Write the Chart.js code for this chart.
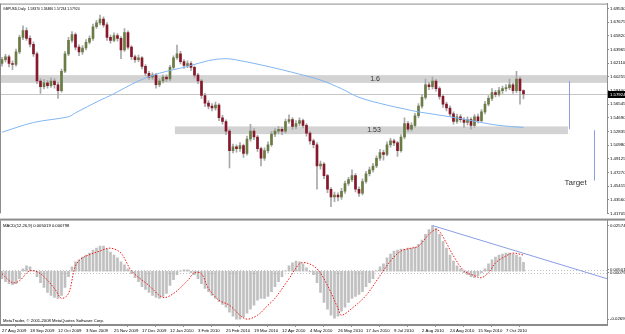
<!DOCTYPE html>
<html>
<head>
<meta charset="utf-8">
<script src="https://cdn.jsdelivr.net/npm/chart.js@4.4.0/dist/chart.umd.min.js"></script>
<style>
  html, body { margin: 0; padding: 0; background: #fff; }
  #wrap { position: relative; width: 625px; height: 334px; overflow: hidden; }
  canvas { position: absolute; left: 0; }
  #price { top: 0; }
  #macd { top: 217px; }
</style>
</head>
<body>
<div id="wrap">
  <canvas id="price" width="625" height="217"></canvas>
  <canvas id="macd" width="625" height="117"></canvas>
</div>
<script>
// GBPUSD daily, one candle per two sessions
const opens = [1.6205,1.6257,1.6297,1.6205,1.6191,1.6362,1.6559,1.6651,1.6546,1.6467,
  1.6336,1.5968,1.5889,1.5942,1.5903,1.5968,1.5916,1.5837,1.6100,1.6336,
  1.6520,1.6599,1.6428,1.6362,1.6415,1.6494,1.6546,1.6704,1.6756,1.6809,
  1.6730,1.6559,1.6520,1.6585,1.6546,1.6388,1.6625,1.6428,1.6297,1.6257,
  1.6283,1.6165,1.6073,1.6021,1.6047,1.5916,1.5968,1.6021,1.5995,1.6152,
  1.6283,1.6336,1.6231,1.6178,1.6205,1.6152,1.6047,1.5968,1.5771,1.5666,
  1.5627,1.5601,1.5640,1.5469,1.5417,1.5286,1.5023,1.5075,1.5049,1.5089,
  1.4984,1.5180,1.5286,1.5207,1.5049,1.4918,1.5023,1.5102,1.5246,1.5286,
  1.5312,1.5286,1.5417,1.5443,1.5351,1.5391,1.5430,1.5364,1.5259,1.5154,
  1.5102,1.4813,1.4839,1.4682,1.4498,1.4393,1.4419,1.4393,1.4471,1.4576,
  1.4629,1.4682,1.4498,1.4445,1.4603,1.4708,1.4760,1.4813,1.4918,1.4997,
  1.4970,1.5102,1.5154,1.5128,1.5023,1.5207,1.5391,1.5312,1.5364,1.5496,
  1.5627,1.5745,1.5916,1.5889,1.5968,1.5863,1.5758,1.5653,1.5601,1.5522,
  1.5417,1.5482,1.5443,1.5404,1.5443,1.5364,1.5482,1.5430,1.5548,1.5653,
  1.5732,1.5811,1.5785,1.5837,1.5863,1.5876,1.5916,1.5837,1.5995,1.5837];
const highs = [1.6290,1.6330,1.6320,1.6240,1.6400,1.6590,1.6717,1.6690,1.6580,1.6500,
  1.6360,1.6000,1.5990,1.5975,1.6010,1.6000,1.5950,1.6130,1.6370,1.6560,
  1.6640,1.6620,1.6460,1.6450,1.6530,1.6580,1.6740,1.6790,1.6861,1.6840,
  1.6760,1.6590,1.6620,1.6610,1.6570,1.6678,1.6650,1.6450,1.6320,1.6320,
  1.6300,1.6190,1.6100,1.6080,1.6070,1.6000,1.6050,1.6050,1.6180,1.6310,
  1.6454,1.6370,1.6260,1.6240,1.6230,1.6170,1.6070,1.5990,1.5800,1.5700,
  1.5660,1.5680,1.5660,1.5500,1.5440,1.5310,1.5110,1.5100,1.5130,1.5110,
  1.5220,1.5378,1.5320,1.5230,1.5070,1.5060,1.5140,1.5280,1.5320,1.5350,
  1.5340,1.5450,1.5509,1.5470,1.5430,1.5469,1.5450,1.5390,1.5280,1.5180,
  1.5130,1.4880,1.4860,1.4700,1.4520,1.4460,1.4450,1.4510,1.4610,1.4660,
  1.4760,1.4710,1.4530,1.4640,1.4740,1.4800,1.4850,1.4950,1.5040,1.5030,
  1.5140,1.5190,1.5180,1.5150,1.5240,1.5469,1.5420,1.5400,1.5530,1.5660,
  1.5780,1.5995,1.5950,1.6021,1.5990,1.5890,1.5780,1.5680,1.5630,1.5550,
  1.5520,1.5510,1.5470,1.5480,1.5470,1.5510,1.5520,1.5580,1.5690,1.5770,
  1.5863,1.5840,1.5880,1.5900,1.5920,1.5995,1.5940,1.6100,1.6020,1.58486];
const lows = [1.6170,1.6225,1.6160,1.6120,1.6170,1.6340,1.6530,1.6520,1.6430,1.6300,
  1.5930,1.5800,1.5860,1.5870,1.5880,1.5870,1.5732,1.5815,1.6080,1.6310,
  1.6490,1.6390,1.6310,1.6330,1.6390,1.6470,1.6520,1.6680,1.6730,1.6700,
  1.6520,1.6480,1.6500,1.6510,1.6270,1.6370,1.6400,1.6260,1.6220,1.6230,
  1.6130,1.6040,1.5990,1.5990,1.5870,1.5890,1.5940,1.5960,1.5970,1.6130,
  1.6260,1.6200,1.6140,1.6150,1.6110,1.6010,1.5930,1.5730,1.5620,1.5590,
  1.5560,1.5570,1.5430,1.5380,1.5240,1.4787,1.4990,1.5000,1.5010,1.4930,
  1.4960,1.5150,1.5170,1.5010,1.4813,1.4890,1.4990,1.5080,1.5210,1.5250,
  1.5240,1.5260,1.5390,1.5310,1.5320,1.5360,1.5330,1.5220,1.5110,1.5060,
  1.4498,1.4770,1.4640,1.4450,1.4262,1.4330,1.4340,1.4360,1.4440,1.4550,
  1.4600,1.4460,1.4400,1.4420,1.4580,1.4680,1.4730,1.4790,1.4890,1.4892,
  1.4950,1.5070,1.5090,1.4944,1.5000,1.5180,1.5280,1.5290,1.5340,1.5470,
  1.5600,1.5720,1.5850,1.5860,1.5830,1.5720,1.5610,1.5560,1.5490,1.5380,
  1.5390,1.5410,1.5338,1.5370,1.5312,1.5340,1.5400,1.5410,1.5520,1.5630,
  1.5700,1.5750,1.5760,1.5800,1.5830,1.5850,1.5800,1.5810,1.5653,1.57234];
const closes = [1.6257,1.6297,1.6205,1.6191,1.6362,1.6559,1.6651,1.6546,1.6467,1.6336,
  1.5968,1.5889,1.5942,1.5903,1.5968,1.5916,1.5837,1.6100,1.6336,1.6520,
  1.6599,1.6428,1.6362,1.6415,1.6494,1.6546,1.6704,1.6756,1.6809,1.6730,
  1.6559,1.6520,1.6585,1.6546,1.6388,1.6625,1.6428,1.6297,1.6257,1.6283,
  1.6165,1.6073,1.6021,1.6047,1.5916,1.5968,1.6021,1.5995,1.6152,1.6283,
  1.6336,1.6231,1.6178,1.6205,1.6152,1.6047,1.5968,1.5771,1.5666,1.5627,
  1.5601,1.5640,1.5469,1.5417,1.5286,1.5023,1.5075,1.5049,1.5089,1.4984,
  1.5180,1.5286,1.5207,1.5049,1.4918,1.5023,1.5102,1.5246,1.5286,1.5312,
  1.5286,1.5417,1.5443,1.5351,1.5391,1.5430,1.5364,1.5259,1.5154,1.5102,
  1.4813,1.4839,1.4682,1.4498,1.4393,1.4419,1.4393,1.4471,1.4576,1.4629,
  1.4682,1.4498,1.4445,1.4603,1.4708,1.4760,1.4813,1.4918,1.4997,1.4970,
  1.5102,1.5154,1.5128,1.5023,1.5207,1.5391,1.5312,1.5364,1.5496,1.5627,
  1.5745,1.5916,1.5889,1.5968,1.5863,1.5758,1.5653,1.5601,1.5522,1.5417,
  1.5482,1.5443,1.5404,1.5443,1.5364,1.5482,1.5430,1.5548,1.5653,1.5732,
  1.5811,1.5785,1.5837,1.5863,1.5876,1.5916,1.5837,1.5995,1.5837,1.57924];

// moving average (blue), sampled where it could be read
const maIdx = [0,9,19,21,28,31,39,45,53,59,64,68,76,85,91,97,102,110,115,119,128,137,142,149];
const maVal = [1.5272,1.5404,1.5482,1.5535,1.5706,1.5771,1.5968,1.6073,1.6165,1.6244,1.6270,1.6244,
  1.6165,1.6060,1.5981,1.5863,1.5745,1.5640,1.5588,1.5548,1.5482,1.5404,1.5364,1.5338];

// MACD(12,26,9) histogram and signal
const macdHist = [-0.0042,-0.0058,-0.0069,-0.0075,-0.0069,-0.0042,0.0014,0.0030,0.0025,0.0003,
  -0.0030,-0.0064,-0.0091,-0.0119,-0.0136,-0.0147,-0.0152,-0.0136,-0.0091,-0.0030,
  0.0025,0.0053,0.0064,0.0080,0.0091,0.0102,0.0119,0.0130,0.0141,0.0141,
  0.0125,0.0108,0.0091,0.0075,0.0053,0.0036,0.0014,-0.0014,-0.0036,-0.0058,
  -0.0086,-0.0102,-0.0119,-0.0136,-0.0147,-0.0152,-0.0141,-0.0125,-0.0080,-0.0047,
  -0.0019,0.0003,0.0008,0.0008,-0.0008,-0.0019,-0.0042,-0.0069,-0.0097,-0.0114,
  -0.0136,-0.0152,-0.0169,-0.0186,-0.0202,-0.0230,-0.0252,-0.0269,-0.0269,-0.0258,
  -0.0235,-0.0213,-0.0191,-0.0163,-0.0152,-0.0152,-0.0141,-0.0114,-0.0086,-0.0058,
  -0.0030,0.0003,0.0030,0.0047,0.0058,0.0053,0.0042,0.0019,-0.0003,-0.0019,
  -0.0064,-0.0119,-0.0175,-0.0213,-0.0247,-0.0263,-0.0252,-0.0224,-0.0202,-0.0175,
  -0.0152,-0.0141,-0.0130,-0.0114,-0.0086,-0.0064,-0.0042,0.0003,0.0025,0.0042,
  0.0075,0.0097,0.0114,0.0119,0.0125,0.0125,0.0130,0.0130,0.0136,0.0152,
  0.0175,0.0208,0.0235,0.0257,0.0241,0.0208,0.0169,0.0130,0.0091,0.0058,
  0.0030,0.0014,-0.0008,-0.0019,-0.0030,-0.0036,-0.0025,-0.0008,0.0014,0.0042,
  0.0064,0.0080,0.0091,0.0097,0.0102,0.0102,0.0097,0.0091,0.0080,0.0050];
const signalIdx = [0,3,5,8,11,15,17,19,21,23,28,31,34,37,42,46,49,53,55,57,59,62,65,68,70,73,76,78,
  82,85,87,90,93,96,97,100,104,108,111,114,117,119,122,124,125,127,129,132,135,137,139,141,144,146,149];
const signalVal = [-0.0014,-0.0064,-0.0053,0.0003,-0.0014,-0.0097,-0.0152,-0.0125,0.0030,0.0075,
  0.0114,0.0130,0.0102,0.0003,-0.0080,-0.0147,-0.0125,-0.0053,-0.0008,-0.0014,
  -0.0097,-0.0163,-0.0191,-0.0247,-0.0269,-0.0247,-0.0191,-0.0152,-0.0042,0.0042,
  0.0047,0.0014,-0.0080,-0.0208,-0.0247,-0.0208,-0.0136,-0.0025,0.0058,0.0114,
  0.0130,0.0141,0.0208,0.0235,0.0224,0.0158,0.0086,0.0003,-0.0025,-0.0036,
  -0.0008,0.0047,0.0086,0.0102,0.0091];
const macdLevels = [0.0008, -0.0008];
const macdTrend = [[123, 0.0257], [172.9, -0.0042]];

// drawn zones and marks
const zone16 = [1.5942, 1.6047];
const zone153 = [1.5246, 1.5351];
const zone153From = 49.4, zone153To = 161.7;
const bidPrice = 1.57924;
const moveLine = [162, 1.5968, 1.5312];
const targetLine = [169.1, 1.5299, 1.4616];

// axis labels
const priceTicks = [1.69530,1.67675,1.65820,1.63965,1.62110,1.60255,1.58400,1.56545,
  1.54690,1.52835,1.50980,1.49125,1.47270,1.45415,1.43560,1.41705];
const priceTickLabels = priceTicks.map(v => v.toFixed(5));
const macdTicks = [-0.02691, -0.0008, 0.0008, 0.02574];
const macdTickLabels = ["-0.026910", "0.000798", "0.005019", "0.025740"];
const dateIdx = [0,8,16,24,32,40,48,56,64,72,80,88,96,104,112,120,128,136,144];
const dateLabels = ["27 Aug 2009","18 Sep 2009","12 Oct 2009","3 Nov 2009","25 Nov 2009","17 Dec 2009",
  "12 Jan 2010","3 Feb 2010","25 Feb 2010","19 Mar 2010","12 Apr 2010","4 May 2010","26 May 2010",
  "17 Jun 2010","9 Jul 2010","2 Aug 2010","24 Aug 2010","15 Sep 2010","7 Oct 2010"];

const FONT = '"Liberation Sans", Arial, sans-serif';
const bull = '#6a7c44';
const bear = '#86182b';
const xMin = -0.57, xMax = 172.86;
const idx = closes.map((c, i) => i);

Chart.defaults.font.family = FONT;

const annot = {
  id: 'annot',
  beforeDatasetsDraw(chart, args, o) {
    const { ctx, chartArea: a, scales: { x, y } } = chart;
    ctx.save();
    ctx.beginPath(); ctx.rect(a.left, a.top, a.width, a.height); ctx.clip();
    (o.bands || []).forEach(b => {
      const x0 = x.getPixelForValue(b.from), x1 = x.getPixelForValue(b.to);
      const y0 = y.getPixelForValue(b.range[1]), y1 = y.getPixelForValue(b.range[0]);
      ctx.fillStyle = b.color;
      ctx.fillRect(x0, y0, x1 - x0, y1 - y0);
    });
    (o.hlines || []).forEach(h => {
      const py = Math.round(y.getPixelForValue(h.value)) + 0.5;
      ctx.strokeStyle = h.color; ctx.lineWidth = 1;
      ctx.setLineDash(h.dash || []);
      ctx.beginPath(); ctx.moveTo(a.left, py); ctx.lineTo(a.right, py); ctx.stroke();
    });
    ctx.restore();
  },
  afterDatasetsDraw(chart, args, o) {
    const { ctx, chartArea: a, scales: { x, y } } = chart;
    ctx.save();
    (o.vlines || []).forEach(v => {
      const px = Math.round(x.getPixelForValue(v.line[0])) + 0.5;
      ctx.strokeStyle = v.color; ctx.lineWidth = 1;
      ctx.beginPath(); ctx.moveTo(px, y.getPixelForValue(v.line[1])); ctx.lineTo(px, y.getPixelForValue(v.line[2])); ctx.stroke();
    });
    (o.texts || []).forEach(t => {
      ctx.font = t.font; ctx.fillStyle = t.color;
      ctx.textAlign = 'center'; ctx.textBaseline = 'middle';
      ctx.fillText(t.text, x.getPixelForValue(t.at[0]), y.getPixelForValue(t.at[1]));
    });
    ctx.restore();
  },
  afterDraw(chart, args, o) {
    const { ctx, chartArea: a, scales: { y } } = chart;
    ctx.save();
    ctx.fillStyle = '#8c8c8c';
    if (o.topBar) ctx.fillRect(a.left, a.top - 2, chart.width, 2);
    else ctx.fillRect(a.left, a.top, a.right - a.left, 1);
    ctx.fillRect(a.left, a.top, 1, a.bottom - a.top);
    if (o.bottomLine) ctx.fillRect(a.left, a.bottom - 1, a.right - a.left, 1);
    ctx.font = o.captionFont; ctx.fillStyle = '#000';
    ctx.textAlign = 'left'; ctx.textBaseline = 'middle';
    (o.captions || []).forEach(c => {
      ctx.fillText(c.text, a.left + 3, c.top ? a.top + c.off : a.bottom - c.off);
    });
    if (o.bid) {
      const py = Math.round(y.getPixelForValue(o.bid));
      ctx.fillStyle = '#000';
      ctx.fillRect(a.right + 1, py - 3, chart.width - a.right, 7);
      ctx.fillStyle = '#fff';
      ctx.font = '4.3px ' + FONT;
      ctx.fillText(o.bid.toFixed(5), a.right + 3, py + 0.5);
    }
    ctx.restore();
  }
};

const rightAxis = (min, max, ticks, labels) => ({
  position: 'right', min, max,
  afterFit: ax => { ax.width = 18; },
  afterBuildTicks: ax => { ax.ticks = ticks.map(v => ({ value: v })); },
  ticks: { callback: (v, i) => labels[i], font: { size: 4.3 }, color: '#000', padding: 1 },
  grid: { drawOnChartArea: false, tickLength: 2, color: '#8c8c8c' },
  border: { color: '#8c8c8c' }
});

new Chart(document.getElementById('price'), {
  type: 'bar',
  data: {
    datasets: [
      { type: 'line', data: maIdx.map((v, i) => ({ x: v, y: maVal[i] })), borderColor: '#80b6f2',
        borderWidth: 1, pointRadius: 0, tension: 0.35, order: 0 },
      { data: idx.map(i => ({ x: i, y: [opens[i], closes[i]] })), barThickness: 2, minBarLength: 1,
        backgroundColor: c => closes[c.dataIndex] >= opens[c.dataIndex] ? bull : bear,
        grouped: false, order: 1 },
      { data: idx.map(i => ({ x: i, y: [lows[i], highs[i]] })), barThickness: 1,
        backgroundColor: '#a8a8a8', grouped: false, order: 2 }
    ]
  },
  options: {
    responsive: false, animation: false, devicePixelRatio: 1,
    layout: { autoPadding: false, padding: 0 },
    plugins: {
      legend: { display: false }, tooltip: { enabled: false },
      annot: {
        bands: [
          { from: xMin - 1, to: xMax + 1, range: zone16, color: '#d3d3d3' },
          { from: zone153From, to: zone153To, range: zone153, color: '#d3d3d3' }
        ],
        hlines: [{ value: bidPrice, color: '#c6c6c6' }],
        vlines: [{ line: moveLine, color: '#8a9ee6' }, { line: targetLine, color: '#8a9ee6' }],
        texts: [
          { text: '1.6', at: [106.6, 1.5995], font: '7px ' + FONT, color: '#333' },
          { text: '1.53', at: [106.3, 1.5299], font: '7px ' + FONT, color: '#333' },
          { text: 'Target', at: [163.9, 1.4590], font: '8px ' + FONT, color: '#333' }
        ],
        captionFont: '3.4px ' + FONT,
        captions: [{ text: 'GBPUSD,Daily  1.58370 1.58486 1.57234 1.57924', top: true, off: 5 }],
        bid: bidPrice
      }
    },
    scales: {
      x: { type: 'linear', min: xMin, max: xMax, offset: false, display: false },
      y: rightAxis(1.41695, 1.70187, priceTicks, priceTickLabels)
    }
  },
  plugins: [annot]
});

new Chart(document.getElementById('macd'), {
  type: 'bar',
  data: {
    datasets: [
      { type: 'line', data: macdTrend.map(p => ({ x: p[0], y: p[1] })), borderColor: '#8a9ee6',
        borderWidth: 1, pointRadius: 0, order: 0 },
      { type: 'line', data: signalIdx.map((v, i) => ({ x: v, y: signalVal[i] })), borderColor: '#f01818',
        borderWidth: 1, borderDash: [1.5, 1.5], pointRadius: 0, tension: 0.35, order: 1 },
      { data: idx.map(i => ({ x: i, y: macdHist[i] })), barThickness: 2, backgroundColor: '#c0c0c0',
        grouped: false, order: 2 }
    ]
  },
  options: {
    responsive: false, animation: false, devicePixelRatio: 1,
    layout: { autoPadding: false, padding: { top: 2 } },
    plugins: {
      legend: { display: false }, tooltip: { enabled: false },
      annot: {
        hlines: macdLevels.map(v => ({ value: v, color: '#c4c4c4', dash: [1, 2] })),
        topBar: true, bottomLine: true,
        captionFont: '4.2px ' + FONT,
        captions: [
          { text: 'MACD(12,26,9) 0.005019 0.000798', top: true, off: 5 },
          { text: 'MetaTrader, \u00a9 2001-2008 MetaQuotes Software Corp.', top: false, off: 4 }
        ]
      }
    },
    scales: {
      x: {
        type: 'linear', min: xMin, max: xMax, offset: false,
        afterFit: ax => { ax.height = 9; },
        afterBuildTicks: ax => { ax.ticks = dateIdx.map(v => ({ value: v })); },
        ticks: { callback: (v, i) => dateLabels[i], align: 'start', autoSkip: false, maxRotation: 0,
          font: { size: 4.3 }, color: '#000', padding: 1 },
        grid: { drawOnChartArea: false, tickLength: 2, color: '#8c8c8c' },
        border: { color: '#8c8c8c' }
      },
      y: rightAxis(-0.0302, 0.0285, macdTicks, macdTickLabels)
    }
  },
  plugins: [annot]
});
</script>
</body>
</html>
